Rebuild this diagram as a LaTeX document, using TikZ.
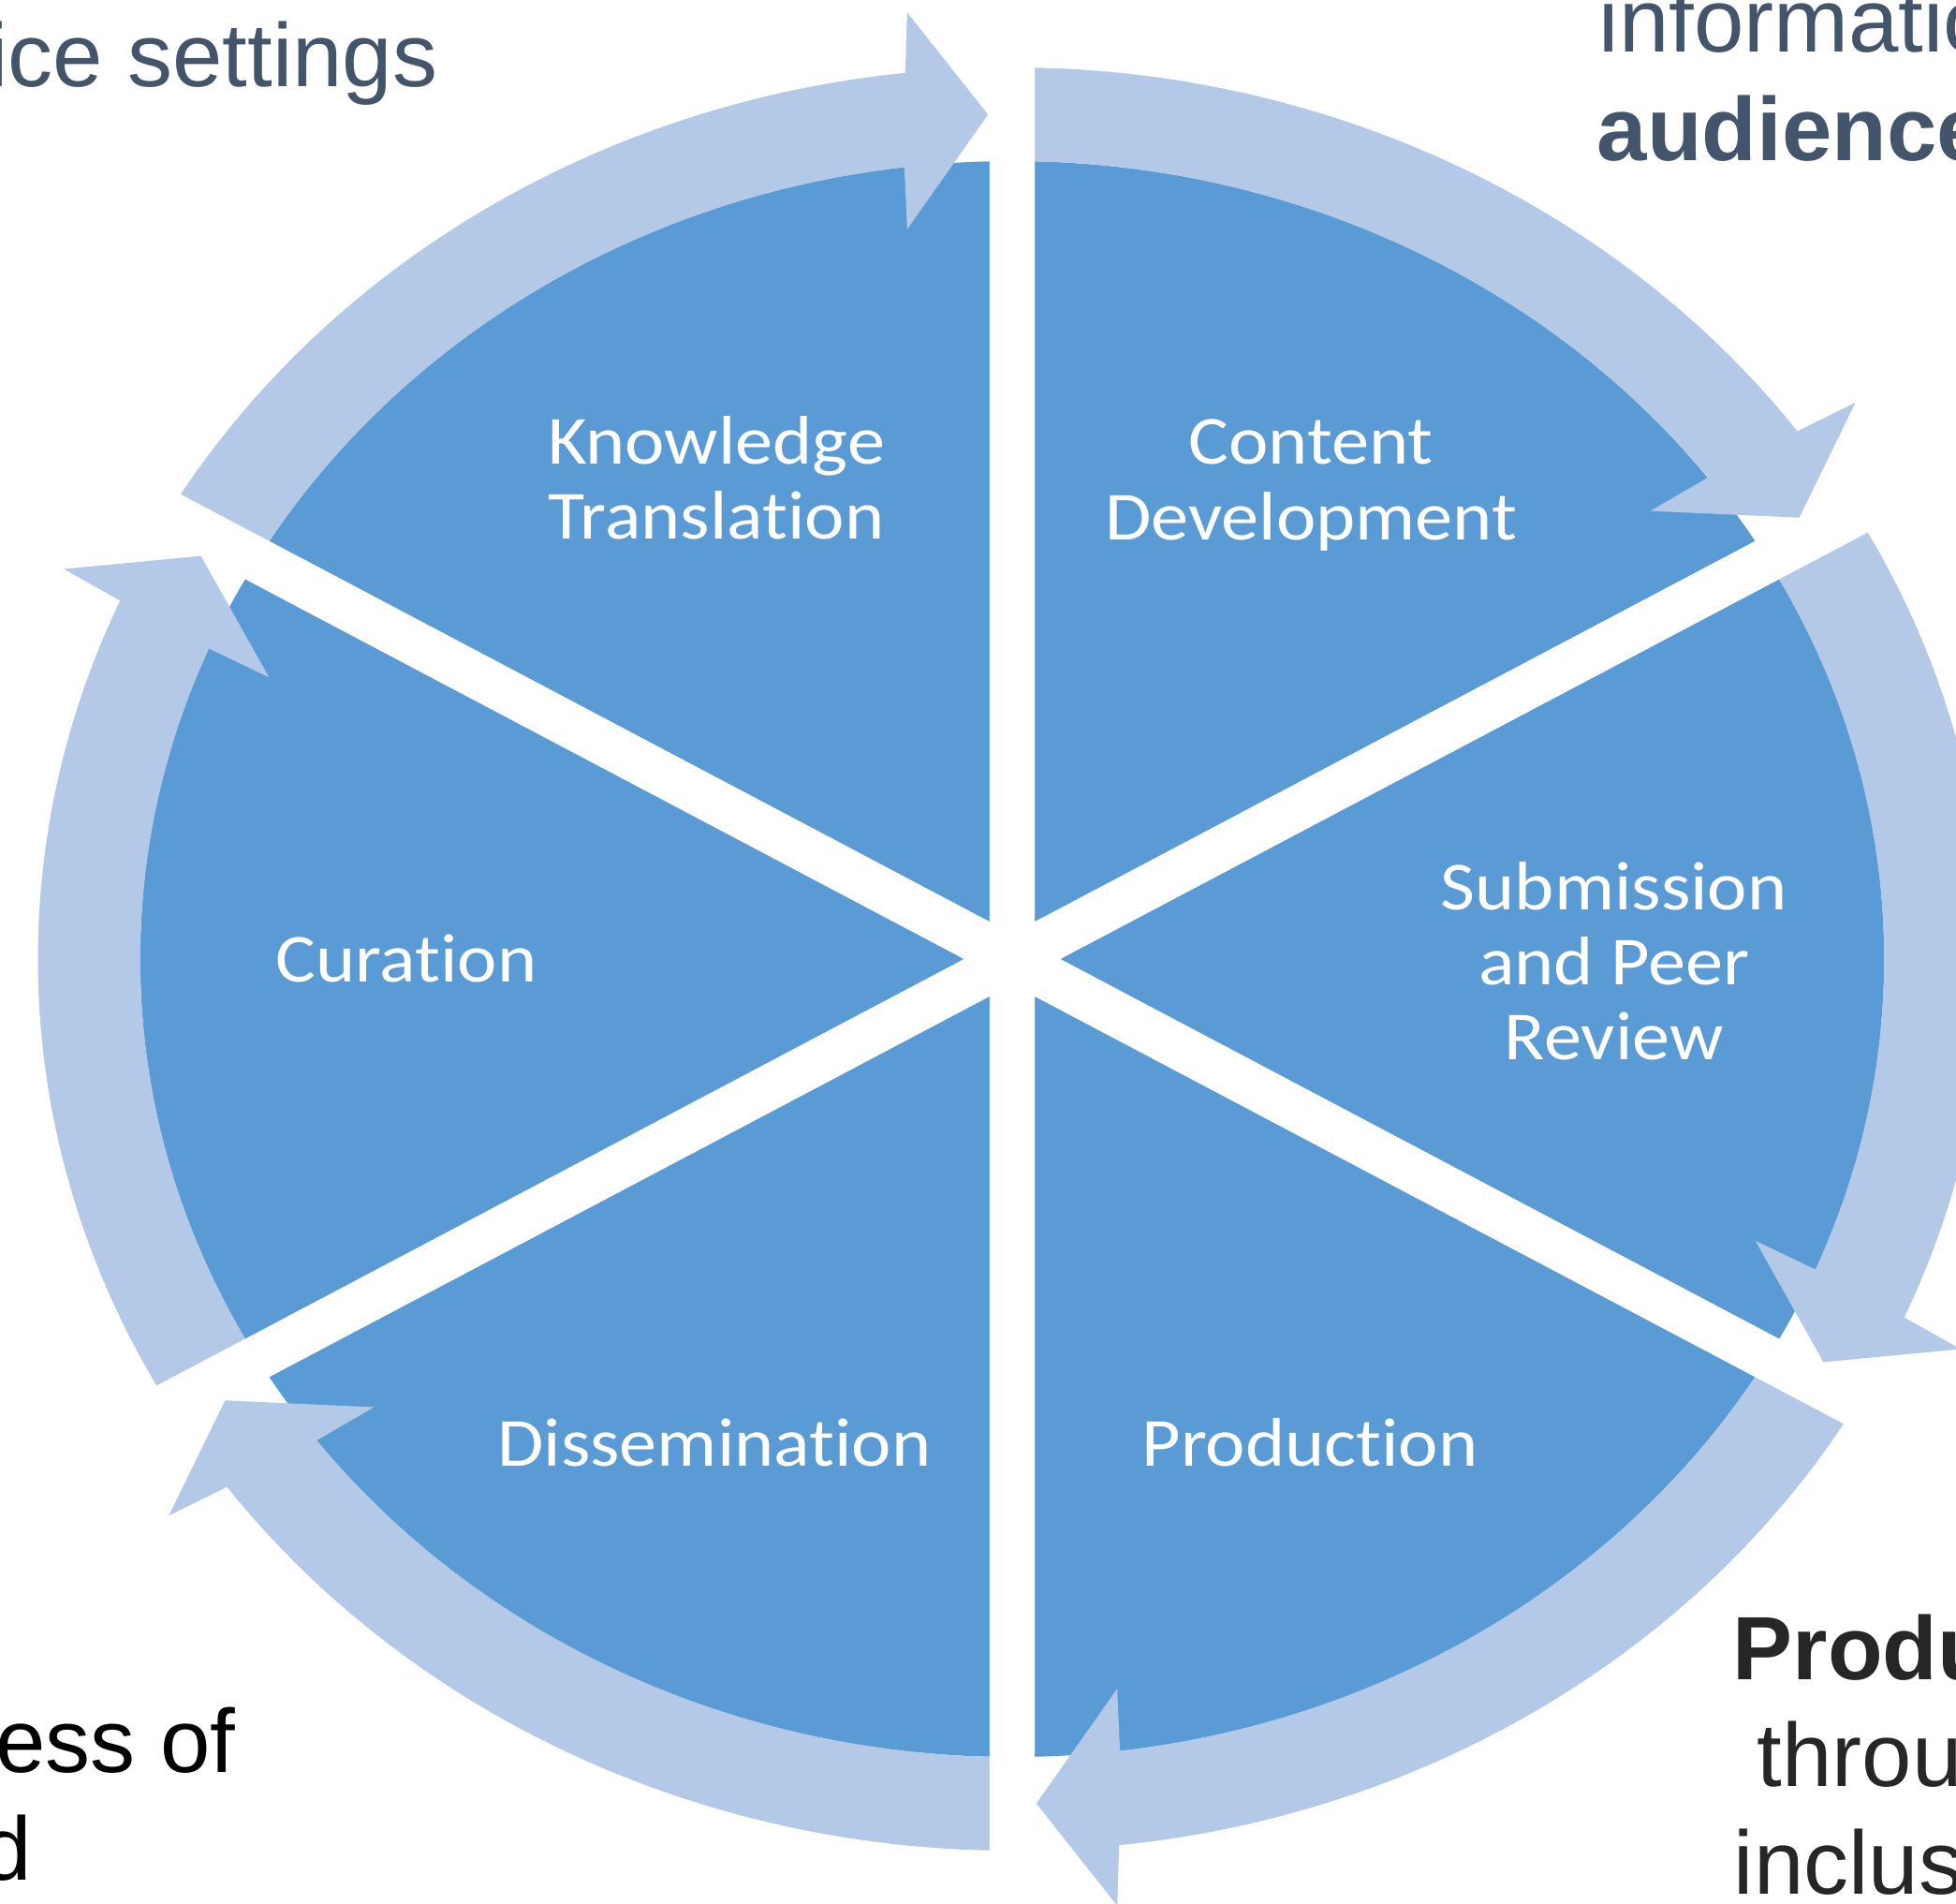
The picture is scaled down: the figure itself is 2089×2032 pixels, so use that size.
\documentclass[tikz,border=0pt]{standalone}
\usepackage{fontspec}
\newfontfamily\calibri[Ligatures=NoCommon]{Carlito}
\newfontfamily\arial{Liberation Sans}
\definecolor{piefill}{HTML}{5B9BD5}
\definecolor{ringfill}{HTML}{B4C8E7}
\definecolor{slate}{HTML}{44546A}
\definecolor{ink}{HTML}{262626}

\begin{document}
\begin{tikzpicture}[x=0.01cm, y=0.01cm,
    stage/.style={text=white, align=center, transform shape,
                  font=\calibri\fontsize{20.9}{22.8}\selectfont},
    slide/.style={inner sep=0, font=\arial\fontsize{27.3}{32}\selectfont},
    gap/.style={white, line width=0.48cm}]
  \useasboundingbox (-1081, -1008) rectangle (1008, 1024);
  \clip (-1081, -1008) rectangle (1008, 1024);
  \begin{scope}[xscale=1.093]
    \fill[piefill] (0, 0) circle [radius=852];
    % one arrow round the rim of every slice
    \foreach \g in {90, 30, -30, -90, -150, -210}
      \fill[ringfill] (\g+60:952) arc [start angle=\g+60, end angle=\g+6.3, radius=952]
            -- (\g+5.8:1016) -- (\g+1.5:902) -- (\g+7.5:786) -- (\g+7.1:852)
            arc [start angle=\g+7.1, end angle=\g+60, radius=852] -- cycle;
    \draw[gap] (90:1040) -- (-90:1040)
               (30:1040) -- (-150:1040)
               (150:1040) -- (-30:1040);
    \path (-289, 514) node (kt) [stage] {Knowledge\\Translation}
          (292, 506) node (cd) [stage] {Content\\Development}
          (588, -2) node (spr) [stage] {Submission\\and Peer\\Review}
          (291, -541) node (prod) [stage, anchor=base] {Production}
          (-291, -541) node (diss) [stage, anchor=base] {Dissemination}
          (-592, -24) node (cur) [stage, anchor=base] {Curation};
  \end{scope}
  % slide text cut off by the crop
  \path (-613, 932) node (set) [slide, text=slate, anchor=base east] {ice settings}
        (626, 969) node (info) [slide, text=slate, anchor=base west] {informatio}
        (624, 853) node (aud) [slide, text=slate, anchor=base west] {\bfseries audience}
        (-829, -868) node (ess) [slide, anchor=base east] {ess of}
        (-1046, -983) node (dd) [slide, anchor=base east] {d}
        (769, -769) node (produ) [slide, text=ink, anchor=base west] {\bfseries Produ}
        (795, -883) node (thr) [slide, text=ink, anchor=base west] {throu}
        (770, -998) node (incl) [slide, text=ink, anchor=base west] {inclus};
\end{tikzpicture}
\end{document}
